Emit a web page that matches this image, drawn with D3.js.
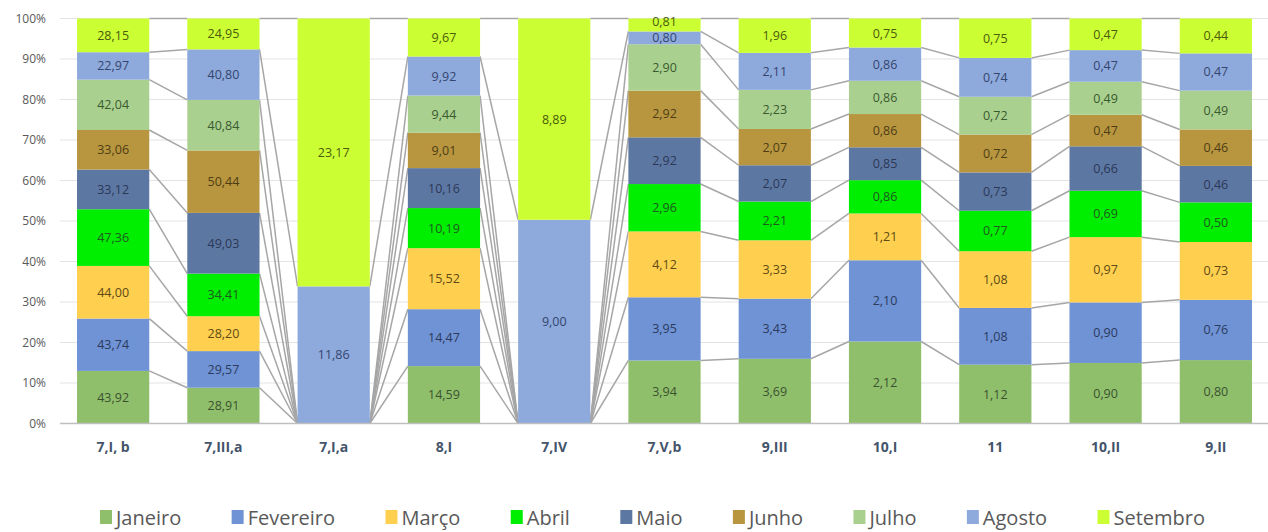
<!DOCTYPE html>
<html>
<head>
<meta charset="utf-8">
<script src="https://cdn.jsdelivr.net/npm/d3@7"></script>
<style>
  body { margin: 0; background: #ffffff; }
  svg { display: block; font-family: "Open Sans", "Noto Sans", sans-serif; }
</style>
</head>
<body>
<div id="chart"></div>
<script>
const categories = ["7,I, b", "7,III,a", "7,I,a", "8,I", "7,IV", "7,V,b", "9,III", "10,I", "11", "10,II", "9,II"];
const months = ["Janeiro", "Fevereiro", "Março", "Abril", "Maio", "Junho", "Julho", "Agosto", "Setembro"];

// one array per month, one value per category
const janeiro   = [43.92, 28.91, 0, 14.59, 0, 3.94, 3.69, 2.12, 1.12, 0.90, 0.80];
const fevereiro = [43.74, 29.57, 0, 14.47, 0, 3.95, 3.43, 2.10, 1.08, 0.90, 0.76];
const marco     = [44.00, 28.20, 0, 15.52, 0, 4.12, 3.33, 1.21, 1.08, 0.97, 0.73];
const abril     = [47.36, 34.41, 0, 10.19, 0, 2.96, 2.21, 0.86, 0.77, 0.69, 0.50];
const maio      = [33.12, 49.03, 0, 10.16, 0, 2.92, 2.07, 0.85, 0.73, 0.66, 0.46];
const junho     = [33.06, 50.44, 0, 9.01, 0, 2.92, 2.07, 0.86, 0.72, 0.47, 0.46];
const julho     = [42.04, 40.84, 0, 9.44, 0, 2.90, 2.23, 0.86, 0.72, 0.49, 0.49];
const agosto    = [22.97, 40.80, 11.86, 9.92, 9.00, 0.80, 2.11, 0.86, 0.74, 0.47, 0.47];
const setembro  = [28.15, 24.95, 23.17, 9.67, 8.89, 0.81, 1.96, 0.75, 0.75, 0.47, 0.44];

const yTicks = [0, 0.1, 0.2, 0.3, 0.4, 0.5, 0.6, 0.7, 0.8, 0.9, 1];

const series = [janeiro, fevereiro, marco, abril, maio, junho, julho, agosto, setembro];
const colors = ["#90bf6c", "#6f93d4", "#ffcf4f", "#00ee00", "#5d77a3", "#b8963f", "#a9d08e", "#8eaadc", "#ccff33"];
const labelColors = ["#3b5230", "#2c3a5e", "#5e4a12", "#1f5a1f", "#2b3856", "#4e3d14", "#3a5a30", "#34456e", "#4b5a0c"];

const width = 1268, height = 532;

// rows for d3.stack
const rows = categories.map((c, i) => {
    const row = {cat: c};
    months.forEach((m, j) => { row[m] = series[j][i]; });
    return row;
});

const stacked = d3.stack().keys(months).offset(d3.stackOffsetExpand)(rows);

const svg = d3.select("#chart")
              .append("svg")
              .attr("width", width)
              .attr("height", height);

const x = d3.scaleBand()
            .domain(categories)
            .range([58, 1271])
            .paddingInner(0.345)
            .paddingOuter(0.1725);

const y = d3.scaleLinear()
            .domain([0, 1])
            .range([423.5, 18.5]);

// gridlines
svg.append("g")
   .selectAll("line")
   .data(yTicks.slice(1))
   .enter().append("line")
   .attr("x1", 60)
   .attr("x2", 1268)
   .attr("y1", d => y(d))
   .attr("y2", d => y(d))
   .attr("stroke", "#e3e3e3")
   .attr("stroke-width", 1);

// y labels
svg.append("g")
   .selectAll("text")
   .data(yTicks)
   .enter().append("text")
   .attr("x", 46)
   .attr("y", d => y(d) + 4)
   .attr("text-anchor", "end")
   .attr("fill", "#595959")
   .style("font-size", "12px")
   .text(d => d3.format(".0%")(d));

// series lines between neighbouring bars
const seriesLines = [];
stacked.forEach(s => {
    for (let i = 0; i < categories.length - 1; i++) {
        seriesLines.push({
            x1: x(categories[i]) + x.bandwidth(), y1: y(s[i][1]),
            x2: x(categories[i + 1]), y2: y(s[i + 1][1])
        });
    }
});
svg.append("g")
   .selectAll("line")
   .data(seriesLines)
   .enter().append("line")
   .attr("x1", d => d.x1)
   .attr("y1", d => d.y1)
   .attr("x2", d => d.x2)
   .attr("y2", d => d.y2)
   .attr("stroke", "#a6a6a6")
   .attr("stroke-width", 1.5);

// bars
const groups = svg.append("g")
   .selectAll("g")
   .data(stacked)
   .enter().append("g")
   .attr("fill", (d, i) => colors[i]);

groups.selectAll("rect")
      .data(d => d)
      .enter().append("rect")
      .attr("x", d => x(d.data.cat))
      .attr("y", d => y(d[1]))
      .attr("width", x.bandwidth())
      .attr("height", d => y(d[0]) - y(d[1]));

// x axis line
svg.append("line")
   .attr("x1", 60)
   .attr("x2", 1268)
   .attr("y1", y(0))
   .attr("y2", y(0))
   .attr("stroke", "#bfbfbf")
   .attr("stroke-width", 1.5);

// data labels, centred in each segment; pushed up when too close to the one below
const fmt = d3.formatLocale({decimal: ",", thousands: ".", grouping: [3], currency: ["", ""]}).format(".2f");
const labels = [];
categories.forEach((c, i) => {
    let prevY = null;
    stacked.forEach((s, j) => {
        const v = s[i].data[s.key];
        if (!(v > 0)) return;
        let ly = (y(s[i][0]) + y(s[i][1])) / 2 + 4.5;
        if (prevY !== null && prevY - ly < 16) ly = prevY - 16;
        prevY = ly;
        labels.push({cat: c, y: ly, text: fmt(v), color: labelColors[j]});
    });
});
svg.append("g")
   .selectAll("text")
   .data(labels)
   .enter().append("text")
   .attr("x", d => x(d.cat) + x.bandwidth() / 2)
   .attr("y", d => d.y)
   .attr("text-anchor", "middle")
   .attr("fill", d => d.color)
   .style("font-size", "12.5px")
   .text(d => d.text);

// category labels
svg.append("g")
   .selectAll("text")
   .data(categories)
   .enter().append("text")
   .attr("x", d => x(d) + x.bandwidth() / 2)
   .attr("y", 452)
   .attr("text-anchor", "middle")
   .attr("fill", "#44546a")
   .style("font-size", "14px")
   .style("font-weight", "bold")
   .text(d => d);

// legend, spread from x=100 to x=1205
const legend = svg.append("g");
const items = legend.selectAll("g")
   .data(months)
   .enter().append("g");
items.append("rect")
     .attr("y", 510)
     .attr("width", 12)
     .attr("height", 14)
     .attr("fill", (d, i) => colors[i]);
items.append("text")
     .attr("x", 16)
     .attr("y", 525)
     .attr("fill", "#595959")
     .style("font-size", "20px")
     .text(d => d);

const widths = [];
items.each(function() {
    widths.push(16 + d3.select(this).select("text").node().getComputedTextLength());
});
const gap = (1205 - 100 - d3.sum(widths)) / (months.length - 1);
let lx = 100;
items.each(function(d, i) {
    d3.select(this).attr("transform", `translate(${lx},0)`);
    lx += widths[i] + gap;
});
</script>
</body>
</html>
